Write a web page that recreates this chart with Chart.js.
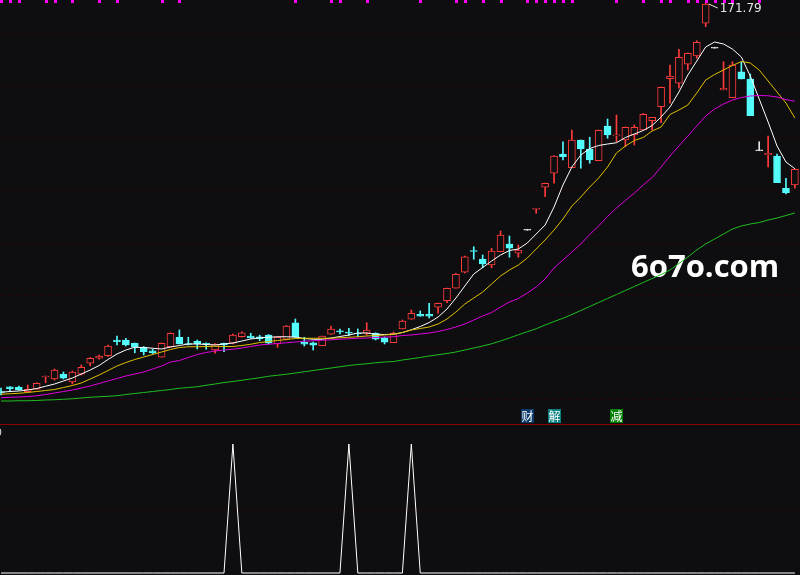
<!DOCTYPE html>
<html>
<head>
<meta charset="utf-8">
<title>K线</title>
<script src="https://cdn.jsdelivr.net/npm/chart.js@4.4.0/dist/chart.umd.min.js"></script>
<style>
  html, body { margin: 0; padding: 0; background: #0e0e10; }
  #wrap { position: relative; width: 800px; height: 575px; overflow: hidden; background: #0e0e10; }
  #main { position: absolute; left: 0; top: 0; }
  #sub { position: absolute; left: 0; top: 425px; }
</style>
</head>
<body>
<div id="wrap">
  <canvas id="main" width="800" height="425"></canvas>
  <canvas id="sub" width="800" height="150"></canvas>
</div>
<script>
// --- datos de las velas (90 barras) ---
const opens = [16.4,18.3,18.1,16.3,17.3,22.2,21.4,23.3,20.2,23.3,
  27.7,29.7,30.7,37.0,37.0,35.7,34.1,32.7,30.1,34.3,
  38.1,35.6,36.5,35.7,33.0,35.7,35.7,38.3,38.6,38.3,
  39.0,35.4,37.3,43.9,36.1,35.9,34.7,39.3,40.7,40.2,
  39.8,39.7,39.7,37.9,35.9,41.4,45.3,47.3,47.3,50.1,
  52.7,57.7,64.1,72.8,69.4,67.0,72.3,75.4,71.7,80.9,
  89.3,98.1,103.7,111.4,105.9,117.0,113.4,108.7,122.6,118.6,
  117.0,119.0,121.0,124.7,130.3,141.5,139.7,147.3,150.6,163.7,
  153.7,137.0,133.9,144.3,141.4,112.7,111.0,110.6,97.7,99.0];
const highs = [17.8,18.4,18.6,19.0,19.9,22.6,25.4,24.2,24.6,27.0,
  30.0,31.0,35.0,38.6,37.7,35.8,34.4,33.3,35.8,39.9,
  41.0,38.1,37.0,35.9,35.6,35.8,39.4,40.3,39.7,38.9,
  39.2,38.2,42.8,45.4,38.1,36.2,38.6,42.6,41.4,41.7,
  41.4,43.9,39.9,38.2,40.2,45.0,49.0,48.6,51.7,51.8,
  57.8,63.7,70.6,74.3,71.0,73.7,80.6,78.6,75.0,80.9,
  89.7,99.8,110.8,116.3,121.0,117.0,118.1,121.0,125.4,127.0,
  122.2,123.0,127.6,126.1,138.2,147.0,153.3,151.9,156.7,171.79,
  153.7,148.3,148.3,148.3,143.4,116.3,118.6,111.4,101.7,105.4];
const lows = [15.0,16.3,16.9,16.3,17.2,19.9,21.0,21.4,19.4,23.0,
  26.7,29.3,30.4,35.0,34.6,31.9,31.0,31.4,30.1,34.2,
  35.4,35.0,33.4,33.3,31.7,32.3,35.4,38.1,37.6,36.7,
  35.4,34.1,37.0,38.0,34.6,33.0,34.7,39.2,39.4,38.7,
  38.3,39.0,37.0,35.4,35.9,41.4,45.3,46.5,45.8,47.7,
  51.9,57.7,63.8,69.3,65.9,65.9,72.3,70.1,70.1,80.9,
  87.7,94.3,99.7,109.0,105.9,105.7,107.7,108.7,117.7,116.3,
  114.3,115.0,121.0,121.0,123.9,131.7,137.7,145.0,149.7,162.3,
  153.7,137.0,133.9,141.4,126.7,112.7,106.2,99.9,95.4,97.7];
const closes = [16.0,17.5,17.0,17.3,19.7,22.6,25.0,21.7,24.2,26.1,
  29.7,30.6,34.6,36.3,35.0,34.1,32.3,31.9,35.7,39.7,
  35.4,35.2,35.4,35.3,35.4,35.0,39.0,39.9,37.8,37.5,
  35.7,38.1,42.6,38.1,35.3,34.9,38.6,41.4,40.2,39.7,
  39.4,41.0,37.3,36.1,39.7,44.6,47.7,46.5,46.5,51.7,
  57.7,63.3,70.3,72.4,67.4,72.6,79.0,73.7,73.0,80.9,
  89.7,99.7,110.6,110.3,117.0,113.4,109.0,120.9,119.0,119.1,
  122.1,122.1,127.3,126.1,138.1,142.6,150.1,151.7,156.1,171.4,
  153.7,137.7,147.0,141.4,126.7,112.7,111.7,99.9,95.9,105.3];

// --- medias móviles ---
const ma5 = [16.1,16.4,16.6,17.0,17.6,18.5,19.4,20.6,21.8,23.4,
  25.0,26.8,29.2,31.4,33.0,34.1,34.0,33.7,33.4,34.2,
  34.8,35.4,35.4,35.2,35.0,35.4,35.8,36.6,37.4,37.9,
  38.1,38.3,38.3,38.2,37.6,37.3,37.3,37.8,38.4,39.0,
  39.8,39.8,39.3,39.2,39.3,40.0,41.1,42.4,44.0,46.2,
  49.4,53.8,58.6,63.4,66.0,68.6,71.0,72.8,73.4,75.8,
  79.4,83.0,90.2,99.0,106.2,111.0,113.6,114.8,115.4,115.9,
  118.0,119.4,120.8,122.8,126.2,130.2,136.2,143.0,148.6,154.2,
  156.2,155.4,153.4,150.2,142.6,133.4,124.2,114.6,108.2,105.5];
const ma10 = [15.3,15.5,15.7,16.0,16.4,16.8,17.2,18.0,18.8,19.8,
  21.4,23.0,24.8,26.6,28.0,29.2,30.2,31.2,32.2,33.2,
  34.0,34.3,34.3,34.4,34.5,34.4,34.4,34.8,35.3,36.0,
  36.4,36.8,37.2,37.6,37.7,37.7,37.7,37.7,37.9,38.1,
  38.3,38.6,38.8,39.0,39.3,40.0,41.0,41.6,42.2,43.4,
  45.4,48.2,51.4,53.8,56.2,59.4,62.6,65.0,67.0,69.8,
  73.4,77.0,81.0,85.4,90.6,94.2,98.2,101.8,106.2,111.8,
  114.6,116.8,118.0,120.6,122.2,127.2,129.0,131.0,135.8,141.0,
  143.2,145.0,146.8,148.4,147.8,145.0,140.6,136.2,131.8,125.8];
const ma20 = [13.9,14.1,14.2,14.4,14.7,15.2,15.8,16.4,17.0,17.8,
  18.6,19.6,20.6,21.6,22.6,23.4,24.2,25.4,26.6,28.2,
  28.8,30.0,31.2,32.0,32.6,33.0,33.3,33.8,34.4,35.0,
  35.3,35.6,35.9,36.2,36.5,36.7,36.9,37.1,37.3,37.5,
  37.7,37.8,38.0,38.2,38.3,38.8,39.0,39.4,39.8,40.4,
  41.2,42.2,43.4,45.0,46.6,48.0,50.2,52.2,53.6,55.8,
  58.2,61.4,65.8,69.0,72.2,75.4,79.2,82.6,86.4,89.8,
  92.8,95.8,99.0,102.0,106.2,110.6,114.6,118.6,122.6,126.6,
  129.4,131.4,133.0,134.0,134.6,134.8,134.7,134.2,133.2,132.5];
const ma60 = [12.6,12.6,12.7,12.7,12.8,13.0,13.1,13.3,13.5,13.8,
  14.1,14.3,14.5,14.7,15.2,15.6,16.0,16.4,16.8,17.2,
  17.7,18.0,18.3,18.9,19.4,20.0,20.4,20.9,21.4,21.9,
  22.5,22.9,23.3,23.8,24.3,24.8,25.3,25.8,26.3,26.8,
  27.2,27.5,27.9,28.2,28.4,29.0,29.5,30.0,30.6,31.1,
  31.6,32.2,33.0,33.8,34.6,35.5,36.6,37.8,39.1,40.3,
  41.5,43.0,44.4,45.7,47.2,48.8,50.4,52.0,53.6,55.2,
  56.8,58.4,60.0,61.6,63.2,65.0,67.6,70.2,73.0,75.4,
  77.4,79.4,81.4,82.6,83.4,84.0,85.0,85.8,86.8,87.8];

// --- señales ---
const topMarks = [0,1,2,5,6,8,11,13,18,20,33,37,38,41,47,51,52,54,56,59,60,61,62,63,64,69,72,74,75,77,78,79,80,81,82,85];
const signalBars = [59, 62, 69];
const signalText = ['财', '解', '减'];
const signalColors = ['#0b3a6a', '#0a8080', '#007f00'];
const spikeBars = [26, 39, 46];
const spikeValue = 100;
const gridLevels = [13.4, 34.2, 55.0, 75.8, 97.0, 117.8, 138.6, 159.4];
const subGridLevels = [50];
const highBar = 79;

// --- escalas / colores ---
const BAR_STEP = 8.92;
const X_MIN = -1 / BAR_STEP;
const X_MAX = X_MIN + 800 / BAR_STEP;
const BG = '#0e0e10';
const UP = '#ff3b3b';
const DOWN = '#54fcfc';
const FLAT = '#e6e6e6';
const GRID = '#480000';

const idx = opens.map((_, i) => i);

function candleColor(i) {
  if (closes[i] > opens[i]) return UP;
  if (closes[i] < opens[i]) return DOWN;
  return FLAT;
}

function lineSet(values, color) {
  return {
    type: 'line',
    data: values.map((v, i) => ({ x: i, y: v })),
    borderColor: color,
    borderWidth: 1,
    pointRadius: 0,
    tension: 0,
    order: 1
  };
}

// rejilla punteada, compartida por los dos paneles
function drawGrid(ctx, scale, levels) {
  ctx.save();
  ctx.strokeStyle = GRID;
  ctx.lineWidth = 1;
  ctx.setLineDash([1, 3]);
  levels.forEach(v => {
    const py = Math.round(scale.getPixelForValue(v)) + 0.5;
    ctx.beginPath();
    ctx.moveTo(0, py);
    ctx.lineTo(800, py);
    ctx.stroke();
  });
  ctx.restore();
}

const mainPlugin = {
  id: 'mainDeco',
  beforeDatasetsDraw(chart) {
    const { ctx, scales: { y } } = chart;
    drawGrid(ctx, y, gridLevels);
    // marca de agua
    ctx.save();
    ctx.fillStyle = '#ffffff';
    ctx.font = 'bold 31px "Open Sans"';
    ctx.textBaseline = 'alphabetic';
    ctx.fillText('6o7o.com', 631, 277);
    ctx.restore();
  },
  afterDatasetsDraw(chart) {
    const { ctx, scales: { x, y } } = chart;
    ctx.save();
    // marcas magenta arriba
    ctx.fillStyle = '#ff00ff';
    topMarks.forEach(i => {
      const px = Math.round(x.getPixelForValue(i));
      ctx.fillRect(px - 1, 0, 3, 3);
    });
    // etiqueta del máximo
    const hx = x.getPixelForValue(highBar);
    const hy = y.getPixelForValue(highs[highBar]);
    ctx.strokeStyle = '#e6e6e6';
    ctx.lineWidth = 1;
    ctx.beginPath();
    ctx.moveTo(hx + 3, hy + 1);
    ctx.lineTo(hx + 12, hy + 5);
    ctx.stroke();
    ctx.fillStyle = '#e6e6e6';
    ctx.font = '12px "DejaVu Sans"';
    ctx.textBaseline = 'middle';
    ctx.fillText(highs[highBar].toFixed(2), hx + 14, hy + 6);
    // señales con fondo
    ctx.font = '12px "Noto Sans CJK SC"';
    ctx.textAlign = 'center';
    signalBars.forEach((b, k) => {
      const px = Math.round(x.getPixelForValue(b));
      ctx.fillStyle = signalColors[k];
      ctx.fillRect(px - 6, 409, 13, 14);
      ctx.fillStyle = '#ffffff';
      ctx.fillText(signalText[k], px + 0.5, 416.5);
    });
    // separador rojo
    ctx.strokeStyle = '#8a0000';
    ctx.beginPath();
    ctx.moveTo(0, 424.5);
    ctx.lineTo(800, 424.5);
    ctx.stroke();
    ctx.restore();
  }
};

new Chart(document.getElementById('main'), {
  data: {
    datasets: [
      lineSet(ma60, '#1fbf1f'),
      lineSet(ma20, '#e000e0'),
      lineSet(ma10, '#e0c000'),
      lineSet(ma5, '#ffffff'),
      {
        type: 'bar',
        data: idx.map(i => ({ x: i, y: [opens[i], closes[i]] })),
        backgroundColor: ctx => closes[ctx.dataIndex] > opens[ctx.dataIndex] ? BG : candleColor(ctx.dataIndex),
        borderColor: ctx => candleColor(ctx.dataIndex),
        borderWidth: 1,
        borderSkipped: false,
        barThickness: 7,
        minBarLength: 1,
        grouped: false,
        order: 2
      },
      {
        type: 'bar',
        data: idx.map(i => ({ x: i, y: [lows[i], highs[i]] })),
        backgroundColor: ctx => candleColor(ctx.dataIndex),
        borderWidth: 0,
        barThickness: 1,
        minBarLength: 1,
        grouped: false,
        order: 3
      }
    ]
  },
  options: {
    responsive: false,
    animation: false,
    events: [],
    layout: { padding: 0 },
    plugins: { legend: { display: false }, tooltip: { enabled: false } },
    scales: {
      x: { type: 'linear', min: X_MIN, max: X_MAX, display: false, offset: false },
      y: { type: 'linear', min: 3, max: 173, display: false }
    }
  },
  plugins: [mainPlugin]
});

// --- panel inferior ---
const spikes = idx.map(i => spikeBars.includes(i) ? spikeValue : 0);

const subPlugin = {
  id: 'subDeco',
  beforeDatasetsDraw(chart) {
    const { ctx, scales: { y } } = chart;
    drawGrid(ctx, y, subGridLevels);
    ctx.save();
    ctx.fillStyle = '#d0d0d0';
    ctx.font = '11px "DejaVu Sans"';
    ctx.textBaseline = 'middle';
    ctx.fillText('0', -5, 8);
    ctx.restore();
  }
};

new Chart(document.getElementById('sub'), {
  type: 'line',
  data: {
    datasets: [{
      data: spikes.map((v, i) => ({ x: i, y: v })),
      borderColor: '#ffffff',
      borderWidth: 1,
      pointRadius: 0,
      tension: 0
    }]
  },
  options: {
    responsive: false,
    animation: false,
    events: [],
    layout: { padding: 0 },
    plugins: { legend: { display: false }, tooltip: { enabled: false } },
    scales: {
      x: { type: 'linear', min: X_MIN, max: X_MAX, display: false, offset: false },
      y: { type: 'linear', min: -1.55, max: 114.73, display: false }
    }
  },
  plugins: [subPlugin]
});
</script>
</body>
</html>
